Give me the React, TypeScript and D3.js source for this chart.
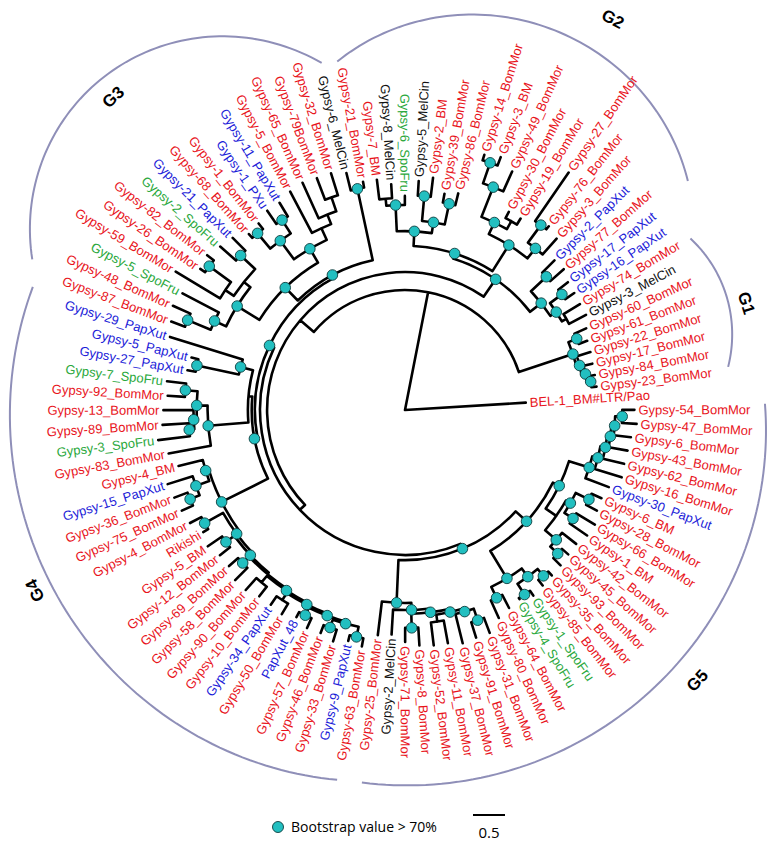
import React from "react";
import * as d3 from "d3";

// ---------------- DATA ----------------
const leafNames = [
  "BEL-1_BM#LTR/Pao",
  "Gypsy-54_BomMor","Gypsy-47_BomMor","Gypsy-6_BomMor","Gypsy-43_BomMor","Gypsy-62_BomMor","Gypsy-16_BomMor","Gypsy-30_PapXut","Gypsy-6_BM","Gypsy-28_BomMor","Gypsy-66_BomMor","Gypsy-1_BM","Gypsy-42_BomMor","Gypsy-45_BomMor","Gypsy-93_BomMor","Gypsy-35_BomMor","Gypsy-85_BomMor","Gypsy-1_SpoFru","Gypsy-4_SpoFru","Gypsy-64_BomMor","Gypsy-80_BomMor","Gypsy-31_BomMor","Gypsy-91_BomMor","Gypsy-37_BomMor","Gypsy-11_BomMor","Gypsy-52_BomMor","Gypsy-8_BomMor","Gypsy-71_BomMor","Gypsy-2_MelCin","Gypsy-25_BomMor",
  "Gypsy-63_BomMor","Gypsy-9_PapXut","Gypsy-33_BomMor","Gypsy-46_BomMor","Gypsy-57_BomMor","PapXut_48","Gypsy-50_BomMor","Gypsy-34_PapXut","Gypsy-10_BomMor","Gypsy-90_BomMor","Gypsy-58_BomMor","Gypsy-69_BomMor","Gypsy-12_BomMor","Gypsy-5_BM","Rikishi","Gypsy-4_BomMor","Gypsy-75_BomMor","Gypsy-36_BomMor","Gypsy-15_PapXut","Gypsy-4_BM","Gypsy-83_BomMor","Gypsy-3_SpoFru","Gypsy-89_BomMor","Gypsy-13_BomMor","Gypsy-92_BomMor","Gypsy-7_SpoFru","Gypsy-27_PapXut","Gypsy-5_PapXut","Gypsy-29_PapXut",
  "Gypsy-87_BomMor","Gypsy-48_BomMor","Gypsy-5_SpoFru","Gypsy-59_BomMor","Gypsy-26_BomMor","Gypsy-82_BomMor","Gypsy-2_SpoFru","Gypsy-21_PapXut","Gypsy-68_BomMor","Gypsy-1_BomMor","Gypsy-1_PXu","Gypsy-11_PapXut","Gypsy-5_BomMor","Gypsy-65_BomMor","Gypsy-79BomMor","Gypsy-32_BomMor","Gypsy-6_MelCin","Gypsy-21_BomMor",
  "Gypsy-7_BM","Gypsy-8_MelCin","Gypsy-6_SpoFru","Gypsy-5_MelCin","Gypsy-2_BM","Gypsy-39_BomMor","Gypsy-86_BomMor","Gypsy-14_BomMor","Gypsy-3_BM","Gypsy-49_BomMor","Gypsy-30_BomMor","Gypsy-19_BomMor","Gypsy-27_BomMor","Gypsy-76_BomMor","Gypsy-3_BomMor","Gypsy-2_PapXut","Gypsy-77_BomMor","Gypsy-17_PapXut","Gypsy-16_PapXut","Gypsy-74_BomMor","Gypsy-3_MelCin",
  "Gypsy-60_BomMor","Gypsy-61_BomMor","Gypsy-22_BomMor","Gypsy-17_BomMor","Gypsy-84_BomMor","Gypsy-23_BomMor",
];

// species -> label colour
const speciesKeys = ["PapXut", "PXu", "SpoFru", "MelCin"];
const speciesColors = ["#1c1cd8", "#1c1cd8", "#2aa83c", "#111111"];
const defaultColor = "#e8141c";

// topology (leaf indices refer to leafNames), branch lengths in substitutions/site, '*' = bootstrap > 70%
const cG5top = "((((((1:0.19,2:0.23)*:0.11,3:0.27)*:0.05,4:0.3)*:0.05,5:0.34)*:0.08,6:0.44)*:0.09,7:0.39)*:0.33";
const cG5mid = "(((8:0.17,9:0.19)*:0.23,(10:0.34,11:0.33)*:0.16)*:0.08,(12:0.28,(13:0.13,14:0.16)*:0.16)*:0.23):0.2";
const cG5R2 = "(((15:0.08,16:0.11)*:0.14,(17:0.09,18:0.02)*:0.2)*:0.16,(19:0.23,20:0.3)*:0.19)*:0.5";
const cG5bot = "((((((21:0.25,22:0.25)*:0.19,23:0.47)*:0.05,(24:0.36,25:0.36):0.11)*:0.05,(26:0.28,27:0.22)*:0.22)*:0.06,28:0.39)*:0.11,29:0.53)*:0.67";
const cG5 = `(((${cG5top},${cG5mid})*:0.11,${cG5R2})*:0.23,${cG5bot})*:0.08`;

const cG4bot = "(((((((((30:0.13,31:0.09)*:0.16,(32:0.19,33:0.13)*:0.13)*:0.03,(34:0.17,35:0.09)*:0.13)*:0.03,(36:0.19,37:0.16):0.13)*:0.03,(38:0.19,39:0.25):0.13)*:0.03,(40:0.27,41:0.19)*:0.14):0.03,(42:0.2,43:0.27)*:0.16)*:0.05,(44:0.09,45:0.2)*:0.33)*:0.06,(((46:0.19,47:0.22)*:0.16,48:0.41)*:0.22,49:0.39)*:0.05)*:0.81";
const cG4up = "(50:0.67,(((51:0.5,52:0.41)*:0.08,53:0.47)*:0.05,(54:0.27,55:0.3)*:0.19)*:0.17)*:0.63";
const cPap = "((56:0.13,57:0.11)*:0.67,58:1.19)*:0.2";
const cG4 = `(${cG4bot},(${cG4up},${cPap}):0.06)*:0.05`;

const cG3d = "(((59:0.23,60:0.3)*:0.39,61:0.64)*:0.2,((62:0.81,(63:0.09,64:0.13)*:0.42):0.16,(65:0.33,66:0.28)*:0.31):0.13)*:0.41";
const cG3c = "(((67:0.08,68:0.11)*:0.31,(69:0.25,70:0.25)*:0.25)*:0.36,(71:0.73,(72:0.61,(73:0.36,74:0.36):0.23):0.16):0.2)*:0.25";
const cG3 = `((${cG3d},${cG3c})*:0.28,(75:0.28,76:0.09)*:1.14)*:0.05`;

const cG2L = "(((77:0.31,78:0.22):0.11,79:0.14)*:0.41,((80:0.23,81:0.3)*:0.39,(82:0.14,83:0.19)*:0.33)*:0.17)*:0.23";
const cG2R = "((((84:0.09,85:0.14)*:0.34,86:0.34)*:0.5,(87:0.11,88:0.11):0.14)*:0.2,((89:0.92,90:0.06)*:0.34,91:0.33)*:0.2)*:0.48";
const cRC = "((92:0.27,93:0.28)*:0.33,((94:0.19,95:0.17)*:0.23,(96:0.3,97:0.3):0.08)*:0.11)*:0.22";
const cG2 = `((${cG2L},${cG2R})*:0.08,${cRC})*:0.33`;

const cG1 = "((98:0.2,99:0.14)*:0.14,(100:0.22,(101:0.14,(102:0.08,103:0.08)*:0.06)*:0.06)*:0.05)*:0.89";

const NEWICK = `(0:1.89,(((${cG5},(${cG4},${cG3})*:0.08):0.11,${cG2}):0.28,${cG1}):1.875);`;

// clade annotation arcs
const groupNames = ["G1", "G2", "G3", "G4", "G5"];
const groupStartDeg = [-31, 259, 202, 100.4, -1];
const groupEndDeg = [-7.6, 321, 256.5, 198.3, 96.6];
const groupRStart = [333, 355, 402, 376, 360];
const groupRMid = [341, 408, 448, 394, 373];
const groupREnd = [326, 364, 357, 392, 375];
const groupLabelDeg = [-17.4, 298, 227, 154, 42.8];
const groupLabelR = [358, 443, 428, 412, 398];

const legendText = "Bootstrap value > 70%";
const scaleBarValue = 0.5;

// ---------------- LAYOUT ----------------
const W = 779, H = 846;
const CX = 405, CY = 410;
const PX_PER_UNIT = 64;
const ANGLE0 = -3.5;

type TNode = { children: TNode[]; leaf: number; len: number; boot: boolean };

function parseNewick(s: string): TNode {
  let i = 0;
  function node(): TNode {
    const n: TNode = { children: [], leaf: -1, len: 0, boot: false };
    if (s[i] === "(") {
      i++;
      n.children.push(node());
      while (s[i] === ",") { i++; n.children.push(node()); }
      i++;
      if (s[i] === "*") { n.boot = true; i++; }
    } else {
      let t = "";
      while (i < s.length && /[0-9]/.test(s[i])) t += s[i++];
      n.leaf = +t;
    }
    if (s[i] === ":") {
      i++;
      let t = "";
      while (i < s.length && /[0-9.]/.test(s[i])) t += s[i++];
      n.len = +t;
    }
    return n;
  }
  return node();
}

const rad = (deg: number) => (deg * Math.PI) / 180;
const pt = (r: number, deg: number): [number, number] => [CX + r * Math.cos(rad(deg)), CY + r * Math.sin(rad(deg))];

function colorFor(name: string) {
  for (let k = 0; k < speciesKeys.length; k++) if (name.includes(speciesKeys[k])) return speciesColors[k];
  return defaultColor;
}

export default function App() {
  const rScale = d3.scaleLinear().domain([0, 1]).range([0, PX_PER_UNIT]);
  const aScale = d3.scaleLinear().domain([0, leafNames.length]).range([ANGLE0, ANGLE0 + 360]);

  const root: any = d3.hierarchy(parseNewick(NEWICK), (d: TNode) => (d.children.length ? d.children : null));
  root.eachBefore((n: any) => { n.r = (n.parent ? n.parent.r : 0) + rScale(n.data.len); });
  root.eachAfter((n: any) => {
    n.a = n.children ? d3.mean(n.children, (c: any) => c.a) : aScale(n.data.leaf);
  });

  const nodes: any[] = root.descendants();
  let treePath = "";
  nodes.forEach((n) => {
    if (n.parent) {
      const [x0, y0] = pt(n.parent.r, n.a);
      const [x1, y1] = pt(n.r, n.a);
      treePath += `M${x0},${y0}L${x1},${y1}`;
    }
    if (n.children && n.r > 0) {
      const as = n.children.map((c: any) => c.a);
      const a0 = Math.min(...as), a1 = Math.max(...as);
      const [x0, y0] = pt(n.r, a0);
      const [x1, y1] = pt(n.r, a1);
      treePath += `M${x0},${y0}A${n.r},${n.r} 0 ${a1 - a0 > 180 ? 1 : 0} 1 ${x1},${y1}`;
    }
  });

  const dots = nodes.filter((n) => n.children && n.data.boot);
  const leaves = nodes.filter((n) => !n.children);

  const groupPaths = groupNames.map((_, g) => {
    const pts = d3.range(0, 1.0001, 1 / 80).map((t) => {
      const r = groupRStart[g] * (2 * t - 1) * (t - 1) + groupRMid[g] * 4 * t * (1 - t) + groupREnd[g] * t * (2 * t - 1);
      const a = groupStartDeg[g] + (groupEndDeg[g] - groupStartDeg[g]) * t;
      return pt(r, a);
    });
    return d3.line()(pts as [number, number][]) || "";
  });

  const sbX = 473, sbY = 815;

  return (
    <svg width={W} height={H} style={{ position: "absolute", left: 0, top: 0, background: "#fff" }}
      fontFamily="'Liberation Sans', Arial, Helvetica, sans-serif">
      {groupPaths.map((d, g) => (
        <path key={"ga" + g} d={d} fill="none" stroke="#8f8fb8" strokeWidth={2} />
      ))}
      {groupNames.map((name, g) => {
        const [x, y] = pt(groupLabelR[g], groupLabelDeg[g]);
        let rot = groupLabelDeg[g] + 90;
        rot = ((rot % 360) + 360) % 360;
        if (rot > 90 && rot <= 180) rot -= 180;
        return (
          <text key={"gl" + g} x={x} y={y} transform={`rotate(${rot},${x},${y})`} textAnchor="middle"
            dy="0.35em" fontWeight="bold" fontSize={17} fill="#000">{name}</text>
        );
      })}
      <path d={treePath} fill="none" stroke="#000" strokeWidth={2.6} strokeLinecap="round" strokeLinejoin="round" />
      {dots.map((n, i) => {
        const [x, y] = pt(n.r, n.a);
        return <circle key={"d" + i} cx={x} cy={y} r={5.3} fill="#22bfc0" stroke="#0d3d3d" strokeWidth={0.9} />;
      })}
      {leaves.map((n, i) => {
        const name = leafNames[n.data.leaf];
        const [x, y] = pt(n.r + 4, n.a);
        const a = ((n.a % 360) + 360) % 360;
        const flip = a > 90 && a < 270;
        const rot = flip ? n.a + 180 : n.a;
        return (
          <text key={"l" + i} x={x} y={y} transform={`rotate(${rot},${x},${y})`} textAnchor={flip ? "end" : "start"}
            dy="0.35em" fontSize={13} fill={colorFor(name)}>{name}</text>
        );
      })}
      {/* legend */}
      <circle cx={278} cy={827} r={5.5} fill="#22bfc0" stroke="#0d3d3d" strokeWidth={0.9} />
      <text x={291} y={832} fontSize={14} fill="#000" fontFamily="'Open Sans', 'Liberation Sans', sans-serif">{legendText}</text>
      <line x1={sbX} x2={sbX + rScale(scaleBarValue)} y1={sbY} y2={sbY} stroke="#000" strokeWidth={2} />
      <text x={sbX + rScale(scaleBarValue) / 2} y={838} textAnchor="middle" fontSize={15} fill="#000"
        fontFamily="'Open Sans', 'Liberation Sans', sans-serif">{String(scaleBarValue)}</text>
    </svg>
  );
}
